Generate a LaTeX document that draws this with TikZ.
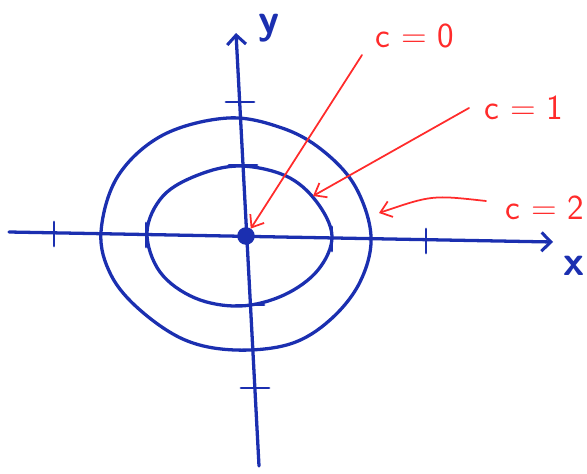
\documentclass[tikz,border=0pt]{standalone}
\usepackage{tikz}
\usetikzlibrary{arrows.meta,positioning}
\definecolor{penBlue}{HTML}{1B2FB0}
\definecolor{penRed}{HTML}{FF2B2B}

\begin{document}
\begin{tikzpicture}[
    x=0.03cm,y=-0.03cm,
    axis/.style={penBlue,line width=2.8pt,line cap=round,
                 -{Straight Barb[length=8pt,width=16pt,line width=2.6pt]}},
    level/.style={penBlue,line width=2.8pt,line cap=round,line join=round},
    tickmark/.style={penBlue,line width=2.4pt,line cap=round},
    pointer/.style={penRed,line width=1.5pt,line cap=round,
                    -{Straight Barb[length=9pt,width=14pt,line width=1.5pt]}},
    lab/.style={text=penRed,font=\fontsize{30}{32}\sffamily},
    axlab/.style={text=penBlue,font=\fontsize{36}{38}\sffamily\bfseries}
  ]
  \useasboundingbox (0,0) rectangle (587,473);

  % axes
  \coordinate (xs) at (9,232);
  \coordinate (xe) at (553,242);
  \coordinate (ys) at (259,466);
  \coordinate (ye) at (236,33);
  \draw[axis] (xs) -- (xe);
  \draw[axis] (ys) -- (ye);
  \node[axlab] (X) at (574,266) {x};
  \node[axlab] (Y) at (269,28) {y};

  % ticks
  \foreach \px/\py in {54/233,146/234,332/238,426/240}
    \draw[tickmark] (\px,\py-11) -- (\px,\py+13);
  \foreach \px/\py in {240/102,243/165,250/305,255/388}
    \draw[tickmark] (\px-14,\py) -- (\px+14,\py);

  % level curves
  \draw[level] plot[smooth cycle,tension=0.6] coordinates {
    (147,232) (163,196) (198,175) (240,166) (286,176) (316,201)
    (332,236) (318,270) (284,295) (240,306) (195,298) (160,272)};
  \draw[level] plot[smooth cycle,tension=0.6] coordinates {
    (101,232) (118,176) (163,135) (228,118) (282,128) (322,150)
    (355,186) (371,236) (360,282) (330,320) (290,344) (235,350)
    (185,340) (140,310) (111,275)};
  \node[circle,fill=penBlue,draw=penBlue,line width=1pt,
        minimum size=14pt,inner sep=0pt] (O) at (246,236) {};

  % labels and pointers
  \node[lab] (c0) at (415,36)  {c = 0};
  \node[lab] (c1) at (524,108) {c = 1};
  \node[lab] (c2) at (545,208) {c = 2};
  \coordinate (s0) at (362,55);
  \coordinate (s1) at (469,108);
  \coordinate (s2) at (486,201);
  \coordinate (e1) at (313,196);
  \coordinate (e2) at (379,213);
  \draw[pointer] (s0) -- (O);
  \draw[pointer] (s1) -- (e1);
  \draw[pointer] (s2) .. controls (432,195) .. (e2);
\end{tikzpicture}
\end{document}
